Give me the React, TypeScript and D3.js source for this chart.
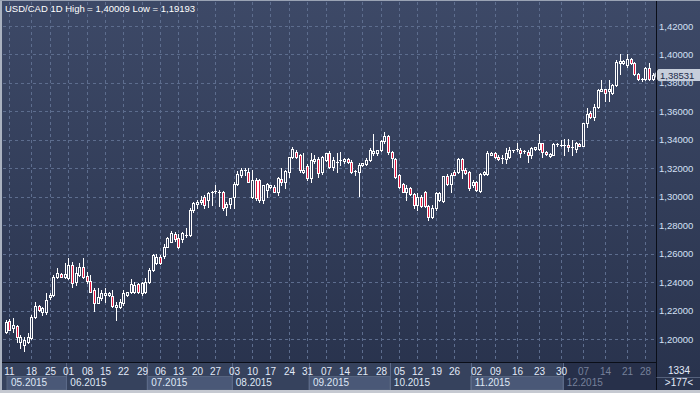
import React from 'react';
import * as d3 from 'd3';

const opens = [
  1.2052, 1.2127, 1.2075, 1.2091, 1.1981, 1.1958, 1.1981, 1.2005, 1.2157, 1.2232,
  1.2192, 1.2192, 1.2298, 1.2309, 1.2434, 1.2457, 1.2434, 1.2427, 1.2520, 1.2403,
  1.2450, 1.2504, 1.2443, 1.2410, 1.2345, 1.2256, 1.2286, 1.2307, 1.2309, 1.2302,
  1.2227, 1.2223, 1.2251, 1.2309, 1.2333, 1.2333, 1.2385, 1.2321, 1.2333, 1.2403,
  1.2485, 1.2536, 1.2579, 1.2580, 1.2650, 1.2684, 1.2736, 1.2707, 1.2700, 1.2724,
  1.2731, 1.2907, 1.2949, 1.2965, 1.3000, 1.2977, 1.3024, 1.3035, 1.3028, 1.3035,
  1.2930, 1.2949, 1.3000, 1.3087, 1.3153, 1.3183, 1.3176, 1.2996, 1.3117, 1.3117,
  1.2977, 1.3047, 1.3071, 1.3071, 1.3036, 1.3122, 1.3106, 1.3176, 1.3282, 1.3317,
  1.3293, 1.3176, 1.3216, 1.3129, 1.3253, 1.3263, 1.3171, 1.3258, 1.3310, 1.3211,
  1.3242, 1.3253, 1.3253, 1.3263, 1.3246, 1.3171, 1.3176, 1.3223, 1.3230, 1.3258,
  1.3305, 1.3305, 1.3328, 1.3394, 1.3427, 1.3317, 1.3263, 1.3153, 1.3087, 1.3036,
  1.3059, 1.3019, 1.2942, 1.3000, 1.3036, 1.2935, 1.2860, 1.2918, 1.2977, 1.2972,
  1.3146, 1.3089, 1.3176, 1.3176, 1.3263, 1.3188, 1.3176, 1.3082, 1.3106, 1.3042,
  1.3159, 1.3159, 1.3293, 1.3305, 1.3282, 1.3263, 1.3265, 1.3277, 1.3321, 1.3328,
  1.3328, 1.3317, 1.3317, 1.3293, 1.3335, 1.3333, 1.3375, 1.3312, 1.3289, 1.3293,
  1.3364, 1.3359, 1.3359, 1.3364, 1.3340, 1.3335, 1.3371, 1.3359, 1.3516, 1.3586,
  1.3563, 1.3633, 1.3746, 1.3755, 1.3746, 1.3731, 1.3785, 1.3942, 1.3942, 1.3926,
  1.3966, 1.3938, 1.3863, 1.3820, 1.3827, 1.3902, 1.3825,
];

const highs = [
  1.2134, 1.2140, 1.2145, 1.2098, 1.2028, 1.2017, 1.2040, 1.2169, 1.2263, 1.2240,
  1.2227, 1.2321, 1.2320, 1.2450, 1.2497, 1.2465, 1.2532, 1.2567, 1.2544, 1.2508,
  1.2532, 1.2567, 1.2473, 1.2450, 1.2356, 1.2356, 1.2345, 1.2356, 1.2330, 1.2345,
  1.2263, 1.2279, 1.2345, 1.2333, 1.2420, 1.2400, 1.2395, 1.2400, 1.2426, 1.2497,
  1.2600, 1.2600, 1.2590, 1.2665, 1.2720, 1.2760, 1.2755, 1.2740, 1.2750, 1.2780,
  1.2918, 1.2960, 1.2975, 1.3005, 1.3010, 1.3035, 1.3040, 1.3080, 1.3045, 1.3040,
  1.2960, 1.2990, 1.3100, 1.3180, 1.3200, 1.3200, 1.3200, 1.3188, 1.3130, 1.3125,
  1.3082, 1.3095, 1.3085, 1.3080, 1.3140, 1.3200, 1.3188, 1.3282, 1.3352, 1.3330,
  1.3300, 1.3310, 1.3230, 1.3310, 1.3290, 1.3282, 1.3285, 1.3310, 1.3320, 1.3282,
  1.3310, 1.3312, 1.3275, 1.3270, 1.3258, 1.3188, 1.3234, 1.3240, 1.3270, 1.3340,
  1.3440, 1.3330, 1.3400, 1.3457, 1.3434, 1.3320, 1.3270, 1.3160, 1.3095, 1.3082,
  1.3065, 1.3025, 1.3024, 1.3010, 1.3040, 1.2940, 1.2942, 1.3036, 1.3036, 1.3146,
  1.3160, 1.3164, 1.3190, 1.3270, 1.3275, 1.3200, 1.3180, 1.3120, 1.3110, 1.3165,
  1.3180, 1.3320, 1.3315, 1.3312, 1.3290, 1.3293, 1.3340, 1.3350, 1.3330, 1.3375,
  1.3340, 1.3325, 1.3328, 1.3352, 1.3350, 1.3439, 1.3380, 1.3320, 1.3310, 1.3375,
  1.3375, 1.3399, 1.3403, 1.3408, 1.3399, 1.3387, 1.3380, 1.3520, 1.3621, 1.3600,
  1.3650, 1.3755, 1.3820, 1.3760, 1.3820, 1.3790, 1.3960, 1.4001, 1.3960, 1.4000,
  1.3975, 1.3945, 1.3870, 1.3835, 1.3914, 1.3938, 1.3870,
];

const lows = [
  1.2045, 1.2060, 1.2052, 1.1981, 1.1935, 1.1919, 1.1975, 1.2000, 1.2150, 1.2200,
  1.2169, 1.2176, 1.2280, 1.2300, 1.2427, 1.2434, 1.2427, 1.2420, 1.2368, 1.2380,
  1.2440, 1.2427, 1.2391, 1.2333, 1.2196, 1.2251, 1.2274, 1.2263, 1.2300, 1.2227,
  1.2134, 1.2216, 1.2239, 1.2300, 1.2321, 1.2321, 1.2320, 1.2309, 1.2320, 1.2395,
  1.2480, 1.2530, 1.2530, 1.2570, 1.2645, 1.2680, 1.2690, 1.2640, 1.2680, 1.2720,
  1.2725, 1.2890, 1.2920, 1.2950, 1.2920, 1.2930, 1.2940, 1.3025, 1.2935, 1.2910,
  1.2870, 1.2920, 1.2920, 1.3080, 1.3140, 1.3150, 1.3100, 1.2990, 1.2975, 1.2960,
  1.2954, 1.3000, 1.3060, 1.3030, 1.3010, 1.3080, 1.3060, 1.3141, 1.3275, 1.3270,
  1.3176, 1.3165, 1.3120, 1.3106, 1.3240, 1.3141, 1.3160, 1.3250, 1.3200, 1.3190,
  1.3176, 1.3220, 1.3240, 1.3240, 1.3164, 1.3150, 1.3005, 1.3215, 1.3220, 1.3250,
  1.3290, 1.3290, 1.3320, 1.3380, 1.3300, 1.3211, 1.3130, 1.3060, 1.3030, 1.2977,
  1.3015, 1.2920, 1.2907, 1.2930, 1.2930, 1.2836, 1.2848, 1.2907, 1.2970, 1.2965,
  1.3085, 1.3036, 1.3150, 1.3170, 1.3130, 1.3160, 1.3050, 1.3070, 1.3040, 1.3036,
  1.3150, 1.3150, 1.3290, 1.3275, 1.3260, 1.3235, 1.3235, 1.3270, 1.3315, 1.3320,
  1.3282, 1.3310, 1.3246, 1.3270, 1.3325, 1.3325, 1.3282, 1.3295, 1.3280, 1.3290,
  1.3360, 1.3355, 1.3293, 1.3320, 1.3293, 1.3317, 1.3355, 1.3355, 1.3492, 1.3555,
  1.3540, 1.3625, 1.3740, 1.3673, 1.3670, 1.3725, 1.3780, 1.3863, 1.3935, 1.3914,
  1.3935, 1.3856, 1.3820, 1.3815, 1.3820, 1.3820, 1.3820,
];

const closes = [
  1.2122, 1.2063, 1.2098, 1.2017, 1.2017, 1.1993, 1.2017, 1.2157, 1.2232, 1.2204,
  1.2216, 1.2274, 1.2309, 1.2438, 1.2462, 1.2434, 1.2455, 1.2520, 1.2391, 1.2462,
  1.2508, 1.2438, 1.2410, 1.2333, 1.2251, 1.2298, 1.2321, 1.2326, 1.2326, 1.2232,
  1.2239, 1.2263, 1.2321, 1.2333, 1.2387, 1.2380, 1.2330, 1.2391, 1.2403, 1.2485,
  1.2590, 1.2579, 1.2536, 1.2649, 1.2707, 1.2743, 1.2700, 1.2649, 1.2743, 1.2731,
  1.2907, 1.2954, 1.2965, 1.2977, 1.2942, 1.3024, 1.3035, 1.3042, 1.3035, 1.2918,
  1.2946, 1.2989, 1.3087, 1.3160, 1.3188, 1.3188, 1.3106, 1.3117, 1.2989, 1.2977,
  1.3082, 1.3090, 1.3082, 1.3036, 1.3129, 1.3106, 1.3183, 1.3282, 1.3335, 1.3282,
  1.3188, 1.3188, 1.3129, 1.3258, 1.3263, 1.3164, 1.3282, 1.3305, 1.3211, 1.3258,
  1.3246, 1.3258, 1.3263, 1.3246, 1.3176, 1.3183, 1.3223, 1.3234, 1.3258, 1.3328,
  1.3321, 1.3328, 1.3394, 1.3427, 1.3312, 1.3270, 1.3141, 1.3071, 1.3036, 1.3059,
  1.3019, 1.2942, 1.3000, 1.2935, 1.2935, 1.2860, 1.2918, 1.3024, 1.3029, 1.3146,
  1.3089, 1.3153, 1.3153, 1.3263, 1.3188, 1.3169, 1.3059, 1.3106, 1.3047, 1.3159,
  1.3176, 1.3310, 1.3305, 1.3282, 1.3265, 1.3270, 1.3305, 1.3328, 1.3328, 1.3333,
  1.3305, 1.3321, 1.3293, 1.3340, 1.3347, 1.3375, 1.3317, 1.3300, 1.3298, 1.3371,
  1.3371, 1.3364, 1.3364, 1.3347, 1.3347, 1.3375, 1.3359, 1.3516, 1.3582, 1.3563,
  1.3633, 1.3750, 1.3755, 1.3731, 1.3755, 1.3785, 1.3949, 1.3956, 1.3956, 1.3966,
  1.3938, 1.3863, 1.3827, 1.3827, 1.3902, 1.3825, 1.38531,
];

const weekTickIndex = [1, 7, 12, 17, 22, 27, 32, 37, 42, 47, 52, 57, 62, 67, 72, 77, 82, 87, 92, 97, 102, 107, 112, 117, 122, 128, 133, 139, 145, 151, 157, 163, 169, 174];
const weekTickLabels = ['11', '18', '25', '01', '08', '15', '22', '29', '06', '13', '20', '27', '03', '10', '17', '24', '31', '07', '14', '21', '28', '05', '12', '19', '26', '02', '09', '16', '23', '30', '07', '14', '21', '28'];
const monthStartIndex = [0, 17, 39, 62, 83, 105, 127, 152];
const monthLabels = ['05.2015', '06.2015', '07.2015', '08.2015', '09.2015', '10.2015', '11.2015', '12.2015'];
const priceTicks = [1.20, 1.22, 1.24, 1.26, 1.28, 1.30, 1.32, 1.34, 1.36, 1.38, 1.40, 1.42];

const title = 'USD/CAD 1D High = 1,40009 Low = 1,19193';
const lastPrice = 1.38531;
const barCountText = '>177<';
const scaleText = '1334';

const W = 700;
const H = 393;
const plotRight = 656.5;
const plotBottom = 362.5;
const axisBottom = 390;
const FONT = '"Liberation Sans", Arial, sans-serif';

const fmt = (v: number, d: number) => v.toFixed(d).replace('.', ',');

export default function App() {
  const n = closes.length;
  const x = d3.scaleLinear().domain([0, n - 1]).range([5.7, 652.7]);
  const y = d3.scaleLinear().domain([1.2, 1.42]).range([339, 26]);
  const step = x(1) - x(0);
  const px = (i: number) => Math.round(x(i)) + 0.5;
  const py = (v: number) => Math.round(y(v)) + 0.5;
  const lastMonthX = x(monthStartIndex[monthStartIndex.length - 1] - 0.5);

  return (
    <svg width={W} height={H} style={{ position: 'absolute', left: 0, top: 0 }} xmlns="http://www.w3.org/2000/svg">
      <defs>
        <linearGradient id="bg" x1="0" y1="0" x2="0" y2="1">
          <stop offset="0" stopColor="#3d4967" />
          <stop offset="1" stopColor="#28324c" />
        </linearGradient>
      </defs>
      <rect x={0} y={0} width={W} height={H} fill="url(#bg)" />
      {/* axis strip */}
      <rect x={0} y={plotBottom} width={plotRight} height={axisBottom - plotBottom} fill="#36425d" />
      <rect x={lastMonthX} y={plotBottom} width={plotRight - lastMonthX} height={axisBottom - plotBottom} fill="#27304a" />
      {/* month boxes */}
      {monthStartIndex.map((s, k) => {
        const x0 = k === 0 ? 7 : x(s - 0.5);
        const x1 = k + 1 < monthStartIndex.length ? x(monthStartIndex[k + 1] - 0.5) : plotRight;
        return (
          <g key={'m' + k}>
            {k % 2 === 0 && k < monthStartIndex.length - 1 && (
              <rect x={x0} y={376.5} width={x1 - x0} height={axisBottom - 376.5} fill="#4a5877" stroke="#56647f" strokeWidth={1} />
            )}
            {k > 0 && (
              <line x1={Math.round(x0) + 0.5} x2={Math.round(x0) + 0.5} y1={plotBottom} y2={axisBottom} stroke="#5b6988" />
            )}
            <text x={x0 + 4} y={386} fontFamily={FONT} fontSize={10} fill={k === monthStartIndex.length - 1 ? '#76809a' : '#dfe7f5'}>
              {monthLabels[k]}
            </text>
          </g>
        );
      })}
      {/* horizontal grid */}
      {priceTicks.map((p) => (
        <line key={'hg' + p} x1={3} x2={plotRight} y1={py(p)} y2={py(p)} stroke="#5d6d8e" strokeDasharray="3,3" />
      ))}
      {/* vertical grid */}
      {weekTickIndex.map((i) => (
        <line key={'vg' + i} x1={px(i)} x2={px(i)} y1={2} y2={plotBottom} stroke="#5d6d8e" strokeDasharray="3,3" />
      ))}
      {/* week labels */}
      {weekTickIndex.map((i, k) => (
        <text key={'wl' + k} x={px(i)} y={375} textAnchor="middle" fontFamily={FONT} fontSize={10}
          fill={i >= monthStartIndex[monthStartIndex.length - 1] ? '#76809a' : '#e2eaf8'}>
          {weekTickLabels[k]}
        </text>
      ))}
      {/* candles */}
      {closes.map((c, i) => {
        const o = opens[i];
        const cx = px(i);
        const top = Math.round(y(Math.max(o, c)));
        const bot = Math.round(y(Math.min(o, c)));
        const up = c >= o;
        return (
          <g key={'c' + i}>
            <line x1={cx} x2={cx} y1={Math.round(y(highs[i]))} y2={Math.round(y(lows[i])) + 1} stroke="#ffffff" strokeWidth={1} />
            {bot - top >= 2 ? (
              <rect x={cx - 1} y={top + 0.5} width={2} height={bot - top} fill={up ? '#2f3a57' : '#e2163e'} stroke="#ffffff" strokeWidth={1} />
            ) : (
              <line x1={cx - 1.5} x2={cx + 1.5} y1={top + 0.5} y2={top + 0.5} stroke="#ffffff" strokeWidth={1} />
            )}
          </g>
        );
      })}
      {/* title */}
      <text x={5} y={11.5} fontFamily={FONT} fontSize={9.5} fill="#ffffff">{title}</text>
      {/* right axis */}
      {priceTicks.map((p) => (
        <text key={'pl' + p} x={659} y={y(p) + 3.5} fontFamily={FONT} fontSize={9.5} fill="#d4e0f5">{fmt(p, 5)}</text>
      ))}
      {/* last price label */}
      {(() => {
        const ly = Math.round(y(lastPrice));
        return (
          <g>
            <path d={`M653.5,${ly} L658.5,${ly - 6} L700,${ly - 6} L700,${ly + 6} L658.5,${ly + 6} Z`} fill="#c6cedb" />
            <text x={660} y={ly + 3.5} fontFamily={FONT} fontSize={9.5} fill="#1c2b4a">{fmt(lastPrice, 5)}</text>
          </g>
        );
      })()}
      {/* borders */}
      <line x1={0} x2={plotRight} y1={plotBottom} y2={plotBottom} stroke="#0a0e18" />
      <line x1={plotRight} x2={plotRight} y1={0} y2={axisBottom} stroke="#0a0e18" />
      <line x1={plotRight} x2={W} y1={377.5} y2={377.5} stroke="#56627c" />
      <text x={679} y={374} textAnchor="middle" fontFamily={FONT} fontSize={10} fill="#e2eaf8">{scaleText}</text>
      <text x={679} y={386} textAnchor="middle" fontFamily={FONT} fontSize={10} fill="#e2eaf8">{barCountText}</text>
      <rect x={0} y={0} width={2} height={H} fill="#aab2c0" />
      <rect x={0} y={0} width={W} height={1} fill="#9aa3b4" />
      <rect x={0} y={axisBottom} width={W} height={H - axisBottom} fill="#c5c9d1" />
    </svg>
  );
}
